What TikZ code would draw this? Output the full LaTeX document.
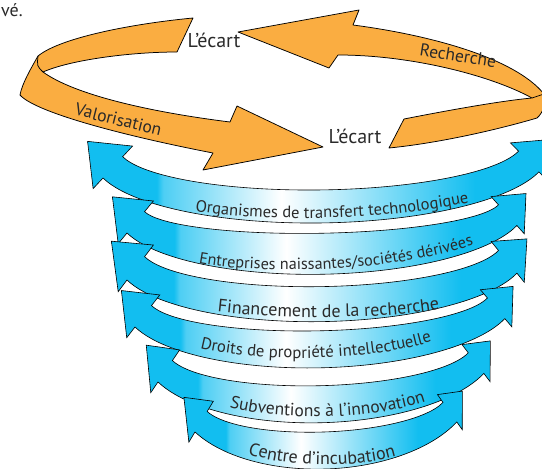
\documentclass[tikz,border=0pt]{standalone}
\usepackage{fontspec}
\setmainfont{PT Sans}
\usetikzlibrary{calc,decorations.text}
\definecolor{bcyan}{RGB}{18,190,240}
\definecolor{borange}{RGB}{250,173,65}
\definecolor{tgray}{RGB}{42,42,42}
\pgfdeclarehorizontalshading{bandfade}{100bp}{color(0bp)=(bcyan); color(32.5bp)=(bcyan); color(33.2bp)=(bcyan!75!white); color(46bp)=(white); color(67bp)=(bcyan); color(100bp)=(bcyan)}
\tikzset{
  bandshape/.style={shading=bandfade, shade, draw=black, line width=0.6pt, line join=miter},
  orng/.style={fill=borange, draw=black, line width=0.75pt, line join=round},
  lbl/.style={inner sep=0pt, text=tgray},
}
% #1 Dx #2 Dy #3 outer bottom #4 Cx #5 Cy #6 inner bottom #7 tilt #8 cx #9 tip rotation
\newcommand\bandarrow[9]{%
  \pgfmathsetmacro\hO{#3-#2}%
  \pgfmathsetmacro\dO{#8-#1}%
  \pgfmathsetmacro\sO{\hO/(\dO-\hO)}%
  \pgfmathsetmacro\aO{asin(\sO)}%
  \pgfmathsetmacro\rxO{\dO/cos(\aO)}%
  \pgfmathsetmacro\ryO{\hO/(1-\sO)}%
  \pgfmathsetmacro\hI{#6-#5}%
  \pgfmathsetmacro\dI{#8-#4}%
  \pgfmathsetmacro\sI{\hI/(\dI-\hI)}%
  \pgfmathsetmacro\aI{asin(\sI)}%
  \pgfmathsetmacro\rxI{\dI/cos(\aI)}%
  \pgfmathsetmacro\ryI{\hI/(1-\sI)}%
  \begin{scope}[rotate around={#7:(#1,#2)}]
    \coordinate (D) at (#1,#2);
    \coordinate (C) at (#4,#5);
    \path (D) arc[start angle={180-\aO}, end angle=\aO, x radius=\rxO, y radius=\ryO] coordinate (D2);
    \path (C) arc[start angle={180-\aI}, end angle=\aI, x radius=\rxI, y radius=\ryI] coordinate (C2);
  \end{scope}
  \coordinate (ML) at ($(C)!0.5!(D)$);
  \coordinate (BL) at ($(C)!-0.5!(D)$);
  \coordinate (EL) at ($(D)!-0.5!(C)$);
  \coordinate (AL) at ($(ML)!2.5!-#9:(D)$);
  \coordinate (MR) at ($(C2)!0.5!(D2)$);
  \coordinate (BR) at ($(C2)!-0.4!(D2)$);
  \coordinate (ER) at ($(D2)!-0.4!(C2)$);
  \coordinate (AR) at ($(MR)!2.05!#9:(D2)$);
  \begin{scope}[rotate around={#7:(#1,#2)}]
    \path[bandshape] (D) arc[start angle={180-\aO}, end angle=\aO, x radius=\rxO, y radius=\ryO]
      -- (ER) -- (AR) -- (BR) -- (C2)
      arc[start angle=\aI, end angle={180-\aI}, x radius=\rxI, y radius=\ryI]
      -- (BL) -- (AL) -- (EL) -- cycle;
  \end{scope}
}
\newcommand\bandlabel[3]{%
  \path[decorate, decoration={text along path, text align=center, text color=tgray,
    text={|\fontsize{#1}{#1}\selectfont|#2}}] #3;
}
\begin{document}
\begin{tikzpicture}[x=1pt, y=-1pt]
\useasboundingbox (0,0) rectangle (542,469);
\fill[white] (0,0) rectangle (542,469);

% blue arrows
\bandarrow{103}{178}{226}{123}{157}{193}{0.8}{321}{93}
\bandlabel{16.5}{Organismes de transfert technologique}{(188,210) .. controls (260,222) and (380,222) .. (476,201)}
\bandarrow{127}{233}{278}{145}{212}{237}{1.1}{322}{98}
\bandlabel{16.2}{Entreprises naissantes/sociétés dérivées}{(193,262) .. controls (260,276) and (400,272) .. (479,243)}
\bandarrow{127}{280}{325}{145}{257}{290}{1.0}{322}{101}
\bandlabel{18}{Financement de la recherche}{(203,310) .. controls (270,320) and (390,320) .. (454,307)}
\bandarrow{135}{327}{372}{152}{306}{335}{1.3}{320}{102}
\bandlabel{16.7}{Droits de propriété intellectuelle}{(193,346) .. controls (255,364) and (375,362) .. (439,339)}
\bandarrow{158}{382}{427}{173}{361}{390}{1.5}{321}{110}
\bandlabel{17.5}{Subventions à l’innovation}{(222,405) .. controls (272,421) and (372,422) .. (433,399)}
\bandarrow{195}{432}{474}{208}{412}{437}{2.2}{326}{114}
\bandlabel{18}{Centre d’incubation}{(238,450) .. controls (276,468) and (362,470) .. (406,453)}

% orange ribbon, left piece
\coordinate (a1) at (193,18);
\coordinate (a2) at (38,56);
\coordinate (a3) at (20,95);
\coordinate (a4) at (213,153);
\coordinate (a5) at (203,170);
\coordinate (a6) at (323,147);
\coordinate (a7) at (237,106);
\coordinate (a8) at (230,122);
\coordinate (a9) at (43,72);
\coordinate (a10) at (177,52);
\path[orng] (a1) .. controls (130,24) and (60,38) .. (a2)
  .. controls (30,70) and (22,84) .. (a3)
  .. controls (35,112) and (120,135) .. (a4) -- (a5) -- (a6) -- (a7) -- (a8)
  .. controls (150,112) and (75,95) .. (a9)
  .. controls (70,60) and (130,52) .. (a10) -- cycle;
\draw[line width=0.75pt] (a2) .. controls (37,66) .. (a9);

% orange ribbon, right piece
\coordinate (b1) at (238,32);
\coordinate (b2) at (359,10);
\coordinate (b3) at (353,25);
\coordinate (b4) at (544,94);
\coordinate (b5) at (537,118);
\coordinate (b6) at (389,148);
\coordinate (b7) at (404,119);
\coordinate (b8) at (532,98);
\coordinate (b9) at (338,55);
\coordinate (b10) at (329,68);
\path[orng] (b3) .. controls (430,35) and (515,58) .. (b4)
  .. controls (547,102) and (543,113) .. (b5)
  .. controls (500,129) and (440,143) .. (b6) -- (b7)
  .. controls (450,110) and (500,101) .. (b8)
  .. controls (490,75) and (410,55) .. (b9) -- (b10) -- (b1) -- (b2) -- cycle;
\draw[line width=0.75pt] (b8) -- (b4);

% texts
\node[lbl, anchor=base west, font=\fontsize{18}{18}\selectfont] (ve) at (1,16.5) {vé.};
\node[lbl, anchor=base, font=\fontsize{20}{20}\selectfont] (ecart1) at (214,47.5) {L’écart};
\node[lbl, anchor=base, font=\fontsize{20}{20}\selectfont] (ecart2) at (355,143) {L’écart};
\node[lbl, rotate=-9, font=\fontsize{17.5}{17.5}\selectfont] (rech) at (458,55.5) {Recherche};
\node[lbl, rotate=-14, font=\fontsize{17.5}{17.5}\selectfont] (valo) at (118.5,119.5) {Valorisation};
\end{tikzpicture}
\end{document}
